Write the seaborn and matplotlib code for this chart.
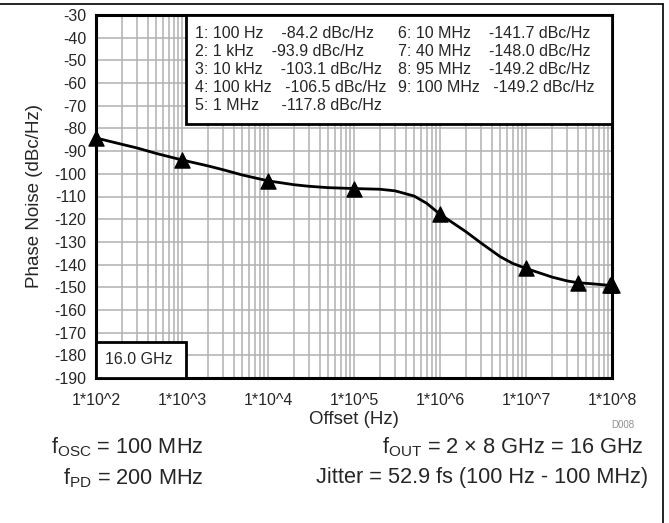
import numpy as np
import pandas as pd
import matplotlib.pyplot as plt
import matplotlib.ticker as mticker
from matplotlib.patches import Rectangle
from matplotlib.lines import Line2D
import seaborn as sns

# curve
curve_freq = [1e2, 2e2, 3e2, 5e2, 1e3, 2e3, 3e3, 5e3, 1e4, 2e4, 3e4, 5e4, 1e5, 2e5, 3e5,
              5e5, 7e5, 1e6, 2e6, 3e6, 5e6, 7e6, 1e7, 2e7, 3e7, 4e7, 6e7, 9.5e7, 1e8]
curve_pn = [-84.2, -87.0, -88.6, -91.0, -93.9, -96.5, -98.2, -100.5, -103.1, -104.8, -105.5,
            -106.1, -106.5, -106.8, -107.5, -109.8, -113.0, -117.8, -125.5, -130.5, -136.5,
            -139.5, -141.7, -145.5, -147.2, -148.0, -148.5, -149.2, -149.2]

# marker points
mk_freq = [1e2, 1e3, 1e4, 1e5, 1e6, 1e7, 4e7, 9.5e7, 1e8]
mk_label = ["100 Hz", "1 kHz", "10 kHz", "100 kHz", "1 MHz", "10 MHz", "40 MHz", "95 MHz", "100 MHz"]
mk_pn = [-84.2, -93.9, -103.1, -106.5, -117.8, -141.7, -148.0, -149.2, -149.2]

y_ticks = list(range(-30, -191, -10))
x_ticks = [1e2, 1e3, 1e4, 1e5, 1e6, 1e7, 1e8]
x_tick_labels = ["1*10^2", "1*10^3", "1*10^4", "1*10^5", "1*10^6", "1*10^7", "1*10^8"]

sns.set_style("white")
plt.rcParams['font.family'] = ['Liberation Sans', 'DejaVu Sans']
plt.rcParams['mathtext.fontset'] = 'custom'
plt.rcParams['mathtext.rm'] = 'Liberation Sans'
plt.rcParams['mathtext.it'] = 'Liberation Sans'

W, H = 669, 523
fig = plt.figure(figsize=(W / 100, H / 100), dpi=100)
ax = fig.add_axes([96 / W, 1 - 378 / H, (612 - 96) / W, (378 - 15) / H])

df_curve = pd.DataFrame({'freq': curve_freq, 'pn': curve_pn})
df_mk = pd.DataFrame({'freq': mk_freq, 'pn': mk_pn})

sns.lineplot(data=df_curve, x='freq', y='pn', color='black', lw=2, ax=ax, zorder=4, clip_on=False)
sns.scatterplot(data=df_mk, x='freq', y='pn', marker='^', s=120, color='black',
                edgecolor='black', ax=ax, zorder=5, clip_on=False)

ax.set_xscale('log')
ax.set_xlim(1e2, 1e8)
ax.set_ylim(-190, -30)
ax.set_yticks(y_ticks)
ax.set_yticklabels([str(v) for v in y_ticks])
ax.set_xticks(x_ticks)
ax.set_xticklabels(x_tick_labels)
ax.xaxis.set_minor_locator(mticker.LogLocator(base=10, subs=np.arange(2, 10), numticks=20))
ax.xaxis.set_minor_formatter(mticker.NullFormatter())
ax.tick_params(axis='both', which='both', length=0, labelsize=11.5)
ax.tick_params(axis='x', pad=11)
ax.tick_params(axis='y', pad=7)
ax.grid(True, which='major', color='#b0b0b0', lw=1.1)
ax.grid(True, which='minor', axis='x', color='#b0b0b0', lw=1.1)
ax.set_axisbelow(True)
for s in ax.spines.values():
    s.set_linewidth(2.2)
    s.set_color('black')
    s.set_zorder(6)

ax.set_xlabel('Offset (Hz)', fontsize=13.5, labelpad=2)
ax.set_ylabel('Phase Noise (dBc/Hz)', fontsize=13.5, labelpad=8)

# marker table box
bx0 = (186 - 96) / 516
by0 = (378 - 124) / 363
ax.add_patch(Rectangle((bx0, by0), 1 - bx0, 1 - by0, transform=ax.transAxes,
                       facecolor='white', edgecolor='black', lw=2, zorder=7))
row_y = [34, 52, 70, 87.5, 105]
gaps = [4, 4, 4, 3, 5, 4, 4, 4, 3]
for i, (lab, val) in enumerate(zip(mk_label, mk_pn)):
    col = i // 5
    r = i % 5
    xl = 195 if col == 0 else 398
    yy = 1 - row_y[r] / H
    fig.text(xl / W, yy, f"{i + 1}: {lab}" + " " * gaps[i] + f"{val:.1f} dBc/Hz",
             fontsize=11.5, va='center', zorder=8)

# frequency box
ax.add_patch(Rectangle((0, 0), bx0, 36 / 363, transform=ax.transAxes,
                       facecolor='white', edgecolor='black', lw=2, zorder=7))
ax.text(0.018, 18 / 363, '16.0 GHz', transform=ax.transAxes, fontsize=11.5,
        va='center', ha='left', zorder=8)

fig.text(634 / W, 1 - 425 / H, 'D008', fontsize=7, color='#909090', ha='right', va='center')

fig.text(204 / W, 1 - 447 / H, r'f$_{\mathrm{OSC}}$ = 100 MHz', fontsize=15.7, ha='right', va='center')
fig.text(204 / W, 1 - 478 / H, r'f$_{\mathrm{PD}}$ = 200 MHz', fontsize=15.7, ha='right', va='center')
fig.text(644 / W, 1 - 447 / H, r'f$_{\mathrm{OUT}}$ = 2 × 8 GHz = 16 GHz', fontsize=15.7, ha='right', va='center')
fig.text(648 / W, 1 - 478 / H, 'Jitter = 52.9 fs (100 Hz - 100 MHz)', fontsize=15.7, ha='right', va='center')

# outer frame
fig.add_artist(Line2D([0, 663 / W], [1 - 4 / H, 1 - 4 / H], transform=fig.transFigure, color='black', lw=1.2))
fig.add_artist(Line2D([663 / W, 663 / W], [1 - 4 / H, 0], transform=fig.transFigure, color='black', lw=1.2))

fig.savefig('out.png', dpi=100)
